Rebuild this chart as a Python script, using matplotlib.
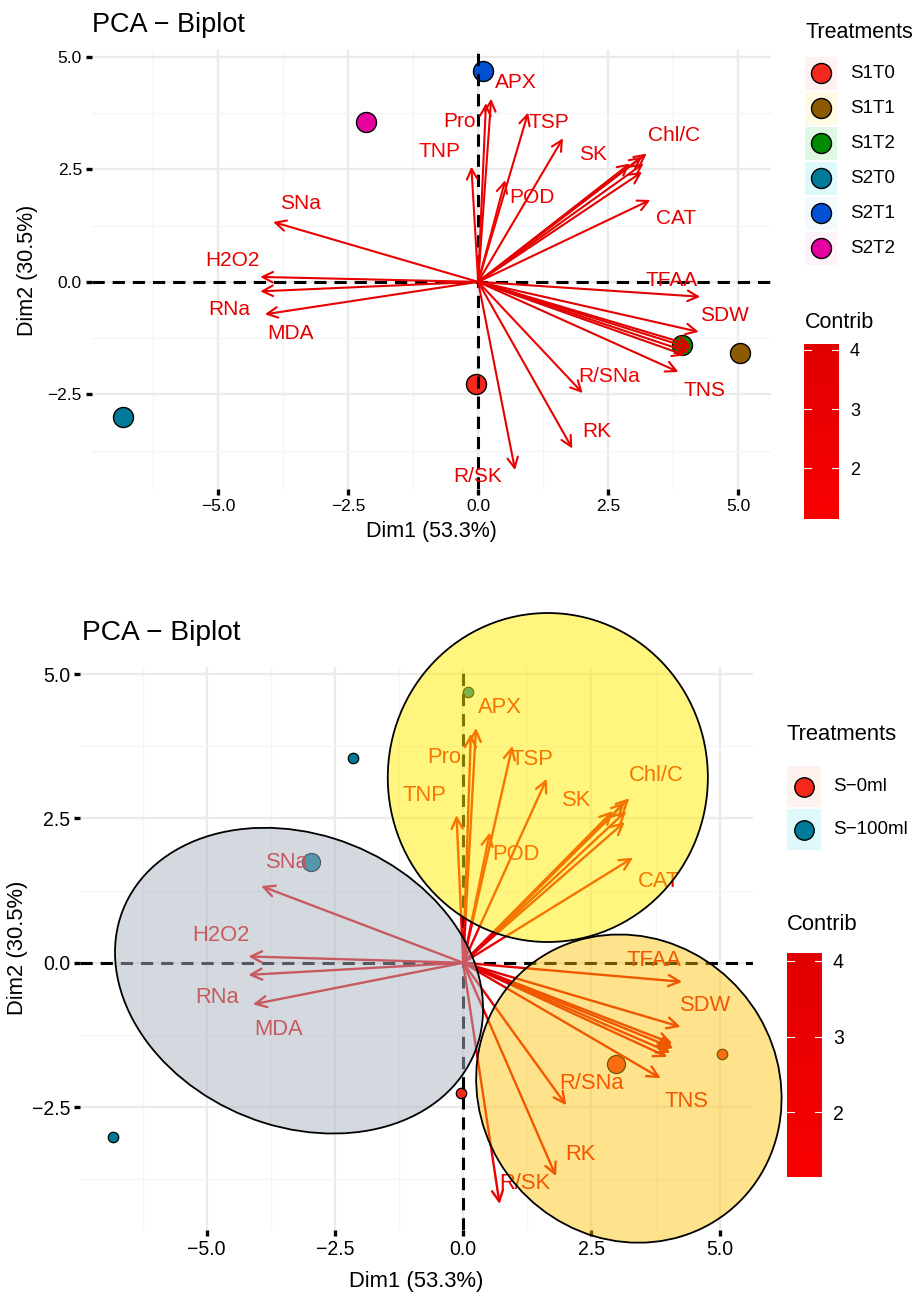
import matplotlib.pyplot as plt
from matplotlib import font_manager
from matplotlib.colors import LinearSegmentedColormap, Normalize
from matplotlib.cm import ScalarMappable
from matplotlib.patches import Ellipse, Rectangle
from matplotlib.ticker import FuncFormatter

plt.rcParams['font.family'] = ['Liberation Sans', 'DejaVu Sans']

W, H = 917, 1296

# individuals on Dim1 / Dim2
treatments = ['S1T0', 'S1T1', 'S1T2', 'S2T0', 'S2T1', 'S2T2']
ind_x = [-0.04, 5.04, 3.92, -6.83, 0.10, -2.15]
ind_y = [-2.26, -1.58, -1.41, -3.01, 4.69, 3.54]
treat_colors = ['#F5281E', '#8C5A00', '#008A00', '#007A99', '#0050D2', '#E600A0']
treat_key_fill = ['#FEF1F0', '#FFFCE3', '#E0F7E4', '#DFFAFB', '#F3FAFD', '#FDF3FB']

# grouping used in the second biplot
groups = ['S\u22120ml', 'S\u2212100ml']
ind_group = [0, 0, 0, 1, 1, 1]
group_colors = ['#F5281E', '#007A99']
group_key_fill = ['#FEF2EF', '#DFF9FB']

# variable arrows (coordinates of the arrow tips) and their contributions
var_names = ['SNa', 'H2O2', 'RNa', 'MDA', 'APX', 'Pro', 'TNP', 'TSP', 'POD',
             'SK', 'Chl/C', 'CAT', 'TFAA', 'SDW', 'TNS', 'R/SNa', 'RK', 'R/SK']
var_x = [-3.94, -4.19, -4.19, -4.10, 0.25, 0.15, -0.13, 0.96, 0.52,
         1.63, 3.24, 3.31, 4.27, 4.24, 3.85, 2.01, 1.81, 0.71]
var_y = [1.33, 0.11, -0.21, -0.72, 4.07, 3.97, 2.56, 3.76, 2.26,
         3.19, 2.85, 1.82, -0.33, -1.11, -2.00, -2.47, -3.70, -4.18]
var_contrib = [3.0, 3.3, 3.3, 3.3, 3.0, 2.9, 1.2, 2.7, 1.3,
               2.5, 3.9, 3.0, 3.6, 3.8, 3.9, 2.1, 3.0, 3.3]
# where each variable name is written
lab_x = [-3.42, -4.73, -4.79, -3.60, 0.72, -0.36, -0.75, 1.35, 1.03,
         2.21, 3.76, 3.81, 3.72, 4.73, 4.35, 2.51, 2.28, 0.00]
lab_y = [1.73, 0.48, -0.61, -1.15, 4.42, 3.56, 2.89, 3.53, 1.87,
         2.82, 3.24, 1.41, 0.04, -0.74, -2.41, -2.10, -3.33, -4.32]
# the grouped plot repelled one label elsewhere
lab_moved = {'R/SK': (1.20, -3.83)}

# arrows whose names are hidden by overlapping labels
hid_x = [3.15, 3.18, 3.15, 2.92, 4.08, 4.04, 3.98, 4.10]
hid_y = [2.78, 2.63, 2.44, 2.63, -1.40, -1.56, -1.63, -1.48]
hid_contrib = [3.7, 3.6, 3.5, 3.3, 3.9, 3.8, 3.7, 3.8]

contrib_min, contrib_max = 1.14, 4.1
cmap = LinearSegmentedColormap.from_list('contrib', ['#F80000', '#E00000'])
norm = Normalize(contrib_min, contrib_max)

have_narrow = any(f.name == 'Liberation Sans Narrow'
                  for f in font_manager.fontManager.ttflist)
narrow = ['Liberation Sans Narrow'] if have_narrow else ['Liberation Sans']
nscale = 1.0 if have_narrow else 0.88


def px_box(l, t, r, b):
    return [l / W, 1 - b / H, (r - l) / W, (b - t) / H]


def minus_fmt(v, pos):
    return f'{v:.1f}'.replace('-', '\u2212')


def base_axes(ax, xlim, ylim, tick_size, family):
    ax.set_xlim(xlim)
    ax.set_ylim(ylim)
    ax.set_xticks([-5, -2.5, 0, 2.5, 5])
    ax.set_yticks([-2.5, 0, 2.5, 5])
    ax.set_xticks([-6.25, -3.75, -1.25, 1.25, 3.75], minor=True)
    ax.set_yticks([-3.75, -1.25, 1.25, 3.75], minor=True)
    ax.xaxis.set_major_formatter(FuncFormatter(minus_fmt))
    ax.yaxis.set_major_formatter(FuncFormatter(minus_fmt))
    ax.grid(which='major', color='#EBEBEB', lw=1.7)
    ax.grid(which='minor', color='#F4F4F4', lw=0.9)
    ax.set_axisbelow(True)
    for s in ax.spines.values():
        s.set_visible(False)
    ax.tick_params(which='major', length=4, width=2.4, color='black',
                   labelsize=tick_size, pad=3)
    ax.tick_params(which='minor', length=0)
    for lab in ax.get_xticklabels() + ax.get_yticklabels():
        lab.set_family(family)
    ax.axhline(0, color='black', lw=2.2, ls=(0, (4, 2.6)), zorder=3)
    ax.axvline(0, color='black', lw=2.2, ls=(0, (4, 2.6)), zorder=3)


def draw_vars(ax, lw, head, size, family, moved=None):
    moved = moved or {}
    style = f'->,head_length={head[0]},head_width={head[1]}'
    xs = var_x + hid_x
    ys = var_y + hid_y
    cs = var_contrib + hid_contrib
    for x, y, c in zip(xs, ys, cs):
        ax.annotate('', xy=(x, y), xytext=(0, 0), zorder=4,
                    arrowprops=dict(arrowstyle=style, color=cmap(norm(c)),
                                    lw=lw, shrinkA=0, shrinkB=0,
                                    mutation_scale=10))
    for name, x, y, c in zip(var_names, lab_x, lab_y, var_contrib):
        x, y = moved.get(name, (x, y))
        ax.text(x, y, name, color=cmap(norm(c)), fontsize=size,
                family=family, ha='center', va='center', zorder=5)


def colorbar(fig, box, tick_size, family):
    cax = fig.add_axes(px_box(*box))
    sm = ScalarMappable(norm=norm, cmap=cmap)
    cb = fig.colorbar(sm, cax=cax, ticks=[2, 3, 4])
    cb.outline.set_visible(False)
    cax.tick_params(length=0, labelsize=tick_size, pad=8)
    for lab in cax.get_yticklabels():
        lab.set_family(family)
    for v in [2, 3, 4]:
        cax.plot([0, 0.2], [v, v], color='white', lw=0.8,
                 transform=cax.get_yaxis_transform())
        cax.plot([0.8, 1], [v, v], color='white', lw=0.8,
                 transform=cax.get_yaxis_transform())


fig = plt.figure(figsize=(W / 100, H / 100), dpi=100)
fig.patch.set_facecolor('white')

# ---- biplot coloured by treatment ----
ax1 = fig.add_axes(px_box(91.7, 50, 771, 489))
base_axes(ax1, (-7.43, 5.63), (-4.6, 5.15), 12.5, ['Liberation Sans'])
for x, y, c in zip(ind_x, ind_y, treat_colors):
    ax1.plot(x, y, 'o', ms=14.4, mfc=c, mec='black', mew=1.0, zorder=2)
draw_vars(ax1, 1.5, (0.75, 0.38), 15, ['Liberation Sans'])

# ---- biplot coloured by salt group, with group ellipses ----
ax2 = fig.add_axes(px_box(80, 666.7, 753, 1230))
base_axes(ax2, (-7.47, 5.65), (-4.63, 5.13), 16 * nscale, narrow)
for x, y, g in zip(ind_x, ind_y, ind_group):
    ax2.plot(x, y, 'o', ms=7.5, mfc=group_colors[g], mec='black',
             mew=0.9, zorder=2)
for g, c in enumerate(group_colors):
    gx = [x for x, k in zip(ind_x, ind_group) if k == g]
    gy = [y for y, k in zip(ind_y, ind_group) if k == g]
    ax2.plot(sum(gx) / len(gx), sum(gy) / len(gy), 'o', ms=13, mfc=c,
             mec='black', mew=0.9, zorder=2)
draw_vars(ax2, 1.7, (0.8, 0.4), 18 * nscale, narrow, lab_moved)

ax2.add_patch(Ellipse((1.65, 3.21), 6.24, 5.70, angle=0,
                      fc=(1.0, 0.925, 0.0, 0.5), ec='black', lw=1.3,
                      zorder=10, clip_on=False))
ax2.add_patch(Ellipse((3.23, -2.18), 6.0, 5.29, angle=-15,
                      fc=(1.0, 0.765, 0.0, 0.45), ec='black', lw=1.3,
                      zorder=11, clip_on=False))
ax2.add_patch(Ellipse((-3.20, -0.31), 7.31, 5.11, angle=-15.5,
                      fc=(0.667, 0.71, 0.76, 0.5), ec='black', lw=1.3,
                      zorder=12, clip_on=False))

# ---- titles, axis titles and legends ----
ov = fig.add_axes([0, 0, 1, 1], zorder=20)
ov.set_xlim(0, W)
ov.set_ylim(H, 0)
ov.axis('off')

ov.text(91.7, 25, 'PCA \u2212 Biplot', fontsize=19.5, ha='left', va='center')
ov.text(431.5, 531, 'Dim1 (53.3%)', fontsize=15.5, ha='center', va='center')
ov.text(28, 270, 'Dim2 (30.5%)', fontsize=15.5, ha='center', va='center',
        rotation=90)

ov.text(805, 33, 'Treatments', fontsize=15.5, ha='left', va='center')
for i, (name, c, f) in enumerate(zip(treatments, treat_colors, treat_key_fill)):
    yc = 73.3 + 35 * i
    ov.add_patch(Rectangle((805, yc - 16.5), 32, 33, fc=f, ec='none'))
    ov.plot(821, yc, 'o', ms=14.4, mfc=c, mec='black', mew=1.0)
    ov.text(850, yc, name, fontsize=13.5, ha='left', va='center')
ov.text(805, 322.7, 'Contrib', fontsize=15.5, ha='left', va='center')
colorbar(fig, (804, 344, 839, 519), 13, ['Liberation Sans'])

ov.text(81.7, 633, 'PCA \u2212 Biplot', fontsize=23 * nscale, family=narrow,
        ha='left', va='center')
ov.text(416.5, 1281, 'Dim1 (53.3%)', fontsize=18 * nscale, family=narrow,
        ha='center', va='center')
ov.text(18, 948, 'Dim2 (30.5%)', fontsize=18 * nscale, family=narrow,
        ha='center', va='center', rotation=90)

ov.text(786.7, 735, 'Treatments', fontsize=18 * nscale, family=narrow,
        ha='left', va='center')
for i, (name, c, f) in enumerate(zip(groups, group_colors, group_key_fill)):
    yc = 786.7 + 43 * i
    ov.add_patch(Rectangle((786.7, yc - 20.5), 34, 41, fc=f, ec='none'))
    ov.plot(804, yc, 'o', ms=14, mfc=c, mec='black', mew=1.0)
    ov.text(832.7, yc, name, fontsize=15.5 * nscale, family=narrow,
            ha='left', va='center')
ov.text(786.7, 925, 'Contrib', fontsize=18 * nscale, family=narrow,
        ha='left', va='center')
colorbar(fig, (786.7, 953.3, 821.7, 1177.3), 16 * nscale, narrow)

fig.savefig('out.png', dpi=100, facecolor='white')
